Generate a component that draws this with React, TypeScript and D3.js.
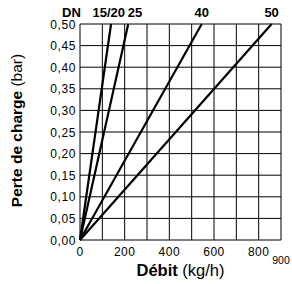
import React, { useEffect, useRef } from 'react';
import * as d3 from 'd3';

// Series: label and flow (kg/h) at 0.50 bar; every line starts at the origin
const SERIES = ['15/20', '25', '40', '50'];
const FLOW_AT_MAX = [139, 216, 545, 858];
const DP_MAX = 0.5;

const X_TICKS = [0, 200, 400, 600, 800];
const X_GRID = [0, 100, 200, 300, 400, 500, 600, 700, 800, 900];
const Y_TICKS = [0, 0.05, 0.1, 0.15, 0.2, 0.25, 0.3, 0.35, 0.4, 0.45, 0.5];

const LABEL_ANCHOR = ['end', 'start', 'middle', 'middle'];

const App = () => {
  const ref = useRef<SVGSVGElement>(null);

  useEffect(() => {
    const svg = d3.select(ref.current);
    svg.selectAll('*').remove();

    const margin = { top: 24, left: 80, right: 11, bottom: 44 };
    const width = 292 - margin.left - margin.right;
    const height = 284 - margin.top - margin.bottom;

    const x = d3.scaleLinear().domain([0, 900]).range([0, width]);
    const y = d3.scaleLinear().domain([0, DP_MAX]).range([height, 0]);

    const g = svg.append('g')
      .attr('transform', 'translate(' + margin.left + ',' + margin.top + ')');

    // grid
    g.selectAll('.vgrid')
      .data(X_GRID)
      .enter()
      .append('line')
      .attr('x1', d => x(d)).attr('x2', d => x(d))
      .attr('y1', 0).attr('y2', height)
      .attr('stroke', '#000').attr('stroke-width', 1);
    g.selectAll('.hgrid')
      .data(Y_TICKS)
      .enter()
      .append('line')
      .attr('x1', 0).attr('x2', width)
      .attr('y1', d => y(d)).attr('y2', d => y(d))
      .attr('stroke', '#000').attr('stroke-width', 1);

    // y tick labels
    g.selectAll('.ylab')
      .data(Y_TICKS)
      .enter()
      .append('text')
      .attr('x', -4)
      .attr('y', d => y(d) + 4.5)
      .attr('text-anchor', 'end')
      .style('font-size', '12px')
      .style('letter-spacing', '0.6px')
      .text(d => d.toFixed(2).replace('.', ','));

    // x tick labels
    g.selectAll('.xlab')
      .data(X_TICKS)
      .enter()
      .append('text')
      .attr('x', d => x(d))
      .attr('y', height + 16)
      .attr('text-anchor', 'middle')
      .style('font-size', '12px')
      .style('letter-spacing', '0.5px')
      .text(d => d);
    g.append('text')
      .attr('x', x(900))
      .attr('y', height + 24)
      .attr('text-anchor', 'middle')
      .style('font-size', '10.5px')
      .text('900');

    // series lines
    const line = d3.line<[number, number]>()
      .x(d => x(d[0]))
      .y(d => y(d[1]));
    FLOW_AT_MAX.forEach((f, i) => {
      g.append('path')
        .attr('d', line([[0, 0], [f, DP_MAX]]))
        .attr('fill', 'none')
        .attr('stroke', '#000')
        .attr('stroke-width', 2.2);
      g.append('text')
        .attr('x', x(f) + (i === 0 ? 14 : i === 1 ? -0.5 : 0))
        .attr('y', -7)
        .attr('text-anchor', LABEL_ANCHOR[i])
        .style('font-size', '13px')
        .style('font-weight', 'bold')
        .text(SERIES[i]);
    });
    g.append('text')
      .attr('x', -18)
      .attr('y', -7)
      .style('font-size', '13px')
      .style('font-weight', 'bold')
      .text('DN');

    // axis titles
    const xt = svg.append('text')
      .attr('x', 180.5)
      .attr('y', 276)
      .attr('text-anchor', 'middle')
      .style('font-size', '16.5px');
    xt.append('tspan').style('font-weight', 'bold').text('Débit');
    xt.append('tspan').text(' (kg/h)');

    const yt = svg.append('text')
      .attr('transform', 'translate(22,130.5) rotate(-90)')
      .attr('text-anchor', 'middle')
      .style('font-size', '15.5px');
    yt.append('tspan').style('font-weight', 'bold').text('Perte de charge');
    yt.append('tspan').text(' (bar)');
  }, []);

  return (
    <svg
      ref={ref}
      width={292}
      height={284}
      style={{ position: 'absolute', left: 0, top: 0, fontFamily: 'Liberation Sans, Arial, sans-serif', background: '#fff' }}
    />
  );
};

export default App;
